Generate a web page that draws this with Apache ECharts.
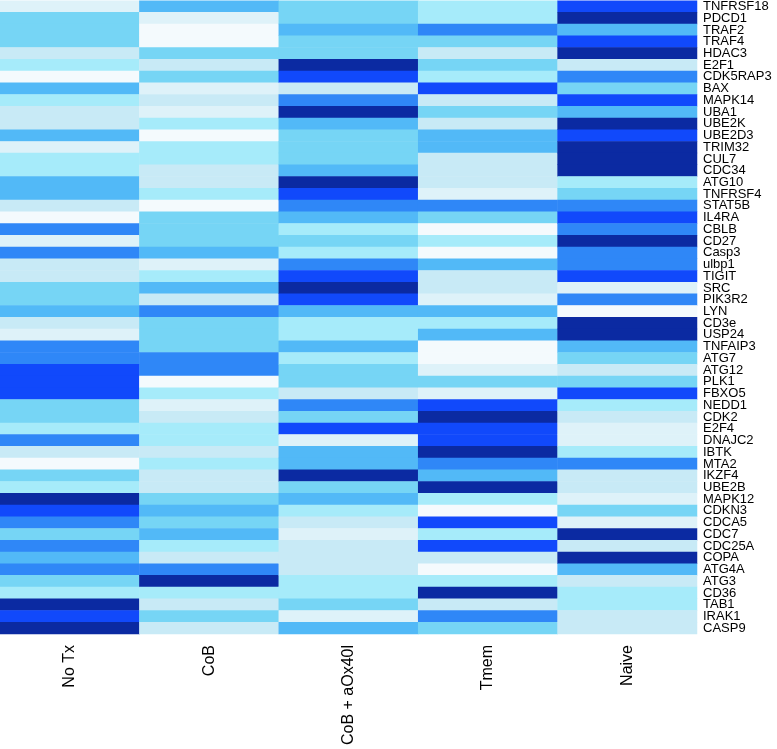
<!DOCTYPE html>
<html>
<head>
<meta charset="utf-8">
<script src="https://cdn.jsdelivr.net/npm/echarts@6/dist/echarts.min.js"></script>
<style>
html,body{margin:0;padding:0;background:#fff;}
#chart{width:777px;height:749px;}
</style>
</head>
<body>
<div id="chart"></div>
<script>
const genes = ["TNFRSF18","PDCD1","TRAF2","TRAF4","HDAC3","E2F1","CDK5RAP3","BAX","MAPK14",
"UBA1","UBE2K","UBE2D3","TRIM32","CUL7","CDC34","ATG10","TNFRSF4","STAT5B",
"IL4RA","CBLB","CD27","Casp3","ulbp1","TIGIT","SRC","PIK3R2","LYN",
"CD3e","USP24","TNFAIP3","ATG7","ATG12","PLK1","FBXO5","NEDD1","CDK2",
"E2F4","DNAJC2","IBTK","MTA2","IKZF4","UBE2B","MAPK12","CDKN3","CDCA5",
"CDC7","CDC25A","COPA","ATG4A","ATG3","CD36","TAB1","IRAK1","CASP9"];
const groups = ["No Tx","CoB","CoB + aOx40l","Tmem","Naive"];

// expression level (0 = lowest / white, 8 = highest / navy), one array per group, in gene order
const noTx   = [1,4,4,4,2,3,0,5,3, 2,2,5,1,3,3,5,5,2, 0,6,1,6,2,2,4,4,5, 2,1,6,6,7,7,7,4,4, 3,6,2,0,4,3,8,7,6, 4,6,5,6,4,3,8,7,8];
const coB    = [5,1,0,0,4,2,4,1,2, 1,3,0,3,3,2,2,3,0, 4,4,4,5,1,3,5,2,6, 4,4,4,6,6,0,3,1,2, 3,3,2,3,2,2,4,5,4, 5,3,2,6,8,3,2,4,2];
const coBOx  = [4,4,5,4,4,8,7,2,6, 8,5,4,4,4,5,8,7,6, 5,3,4,3,6,7,8,7,5, 3,3,5,3,4,4,2,6,4, 7,1,5,5,8,4,5,3,2, 1,2,2,2,3,3,4,1,5];
const tmem   = [3,3,6,4,2,4,3,7,2, 4,2,5,5,2,2,2,1,6, 4,0,3,0,5,2,2,1,5, 3,5,0,0,1,4,1,7,8, 7,7,8,6,5,8,3,0,7, 3,7,2,0,3,8,2,6,4];
const naive  = [7,8,5,7,8,2,6,4,7, 5,8,7,8,8,8,3,4,6, 7,6,8,6,6,7,1,6,0, 8,8,5,4,2,4,7,3,2, 1,1,3,6,2,2,1,4,1, 8,2,8,5,2,3,3,2,2];

const palette = ["#f4fafd","#def2f9","#c8eaf6","#a6ebfa","#76d5f5","#52b9f7","#2f87f7","#1149fb","#0b2aa2"];

const series = [noTx, coB, coBOx, tmem, naive];
const data = [];
series.forEach((vals, xi) => vals.forEach((v, yi) => data.push([xi, yi, v])));

const chart = echarts.init(document.getElementById('chart'));
chart.setOption({
  animation: false,
  backgroundColor: '#fff',
  grid: {left: 0, top: 0, right: 80, bottom: 115},
  xAxis: {
    type: 'category', data: groups,
    axisLine: {show: false}, axisTick: {show: false}, splitLine: {show: false},
    axisLabel: {rotate: 90, margin: 11, fontSize: 16, color: '#000', fontFamily: 'Liberation Sans, Arial, sans-serif', interval: 0}
  },
  yAxis: {
    type: 'category', data: genes, inverse: true, position: 'right',
    axisLine: {show: false}, axisTick: {show: false}, splitLine: {show: false},
    axisLabel: {margin: 6, fontSize: 13, color: '#000', fontFamily: 'Liberation Sans, Arial, sans-serif', interval: 0}
  },
  visualMap: {show: false, min: 0, max: 8, dimension: 2, inRange: {color: palette}},
  series: [{type: 'heatmap', data: data, itemStyle: {borderWidth: 0}, emphasis: {disabled: true}}]
});
</script>
</body>
</html>
